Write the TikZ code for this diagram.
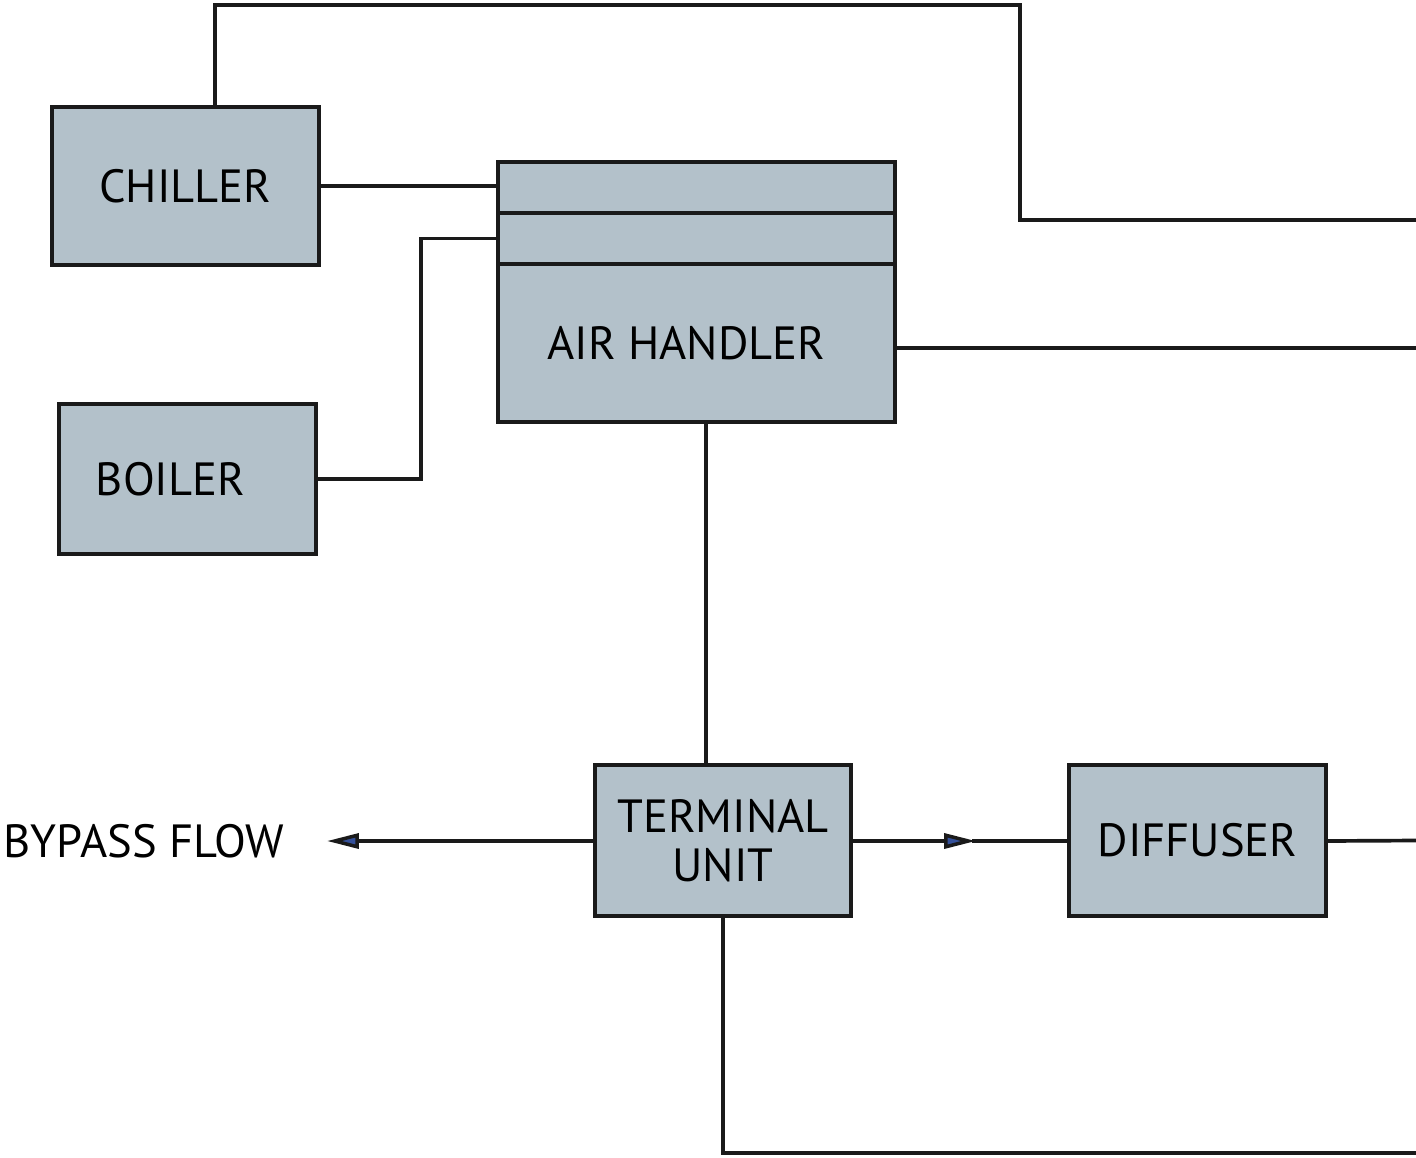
\documentclass[tikz,border=0pt]{standalone}
\usepackage{fontspec}
\setmainfont{PT Sans}
\definecolor{HvacFill}{HTML}{B3C1CA}
\definecolor{HvacLine}{HTML}{1A1A1A}
\definecolor{HvacBlue}{HTML}{34509A}
\usetikzlibrary{arrows.meta,positioning,calc}

\begin{document}
\begin{tikzpicture}[
    x=0.02cm, y=-0.02cm,
    unit/.style={
      draw=HvacLine,
      line width=2.5pt,
      fill=HvacFill,
      inner sep=0pt,
      outer sep=0pt,
      font=\fontsize{26.5}{28}\selectfont,
      align=center
    },
    pipe/.style={draw=HvacLine, line width=2.1pt},
    flow/.style={pipe, -{Triangle[length=0.64cm, width=0.3cm, fill=HvacBlue, line width=2pt]}}
  ]
  \useasboundingbox (0,0) rectangle (1416,1157);

  % plant
  \node[unit, minimum width=5.34cm, minimum height=3.16cm] (chiller) at (185.5,186) {CHILLER};
  \node[unit, minimum width=5.14cm, minimum height=3.0cm,
    label={[font=\fontsize{26.5}{28}\selectfont, xshift=-0.34cm]center:BOILER}] (boiler) at (187.5,479) {};

  % air handler with its two coils on top
  \node[unit, minimum width=7.94cm, minimum height=1.02cm] (ahtop) at (696.5,187.5) {};
  \node[unit, minimum width=7.94cm, minimum height=1.02cm, below=0pt of ahtop] (ahmid) {};
  \node[unit, minimum width=7.94cm, minimum height=3.16cm, below=0pt of ahmid,
    label={[font=\fontsize{26.5}{28}\selectfont, xshift=-0.2cm]center:AIR HANDLER}] (ah) {};

  % zone side
  \node[unit, minimum width=5.12cm, minimum height=3.02cm] (tu) at (723,840.5) {TERMINAL\\UNIT};
  \node[unit, minimum width=5.14cm, minimum height=3.02cm] (diffuser) at (1197.5,840.5) {DIFFUSER};

  \coordinate (cw1) at (215,5);
  \coordinate (cw2) at (1020,220);
  \coordinate (cwend) at (1416,220);
  \coordinate (hw) at (421,0);
  \coordinate (ahdrop) at (706,0);
  \coordinate (sa) at (1416,348);
  \coordinate (edge) at (1416,0);
  \coordinate (bypassend) at (327,841);
  \coordinate (flowtip) at (976,841);
  \coordinate (retn) at (1416,1153);
  \node[anchor=east, font=\fontsize{26.5}{28}\selectfont, inner sep=0pt, left=0.86cm of bypassend] (bypass) {BYPASS FLOW};

  % piping
  \draw[pipe] (cw1 |- chiller.north) -- (cw1) -| (cw2) -- (cwend);
  \draw[pipe] (chiller.east) -- (chiller.east -| ahtop.west);
  \draw[pipe] (boiler.east) -- (boiler.east -| hw) -- (hw |- ahmid.west) -- (ahmid.west);
  \draw[pipe] (ah.east |- sa) -- (sa);
  \draw[pipe] (ahdrop |- ah.south) -- (ahdrop |- tu.north);

  % air flow
  \draw[flow] (tu.west |- bypassend) -- (bypassend);
  \draw[flow] (tu.east |- flowtip) -- (flowtip);
  \draw[pipe] ([xshift=-2pt]flowtip) -- (diffuser.west |- flowtip);
  \draw[pipe] (diffuser.east |- flowtip) -- (diffuser.east -| edge);
  \draw[pipe] (tu.south) -- (tu.south |- retn) -- (retn);
\end{tikzpicture}
\end{document}
